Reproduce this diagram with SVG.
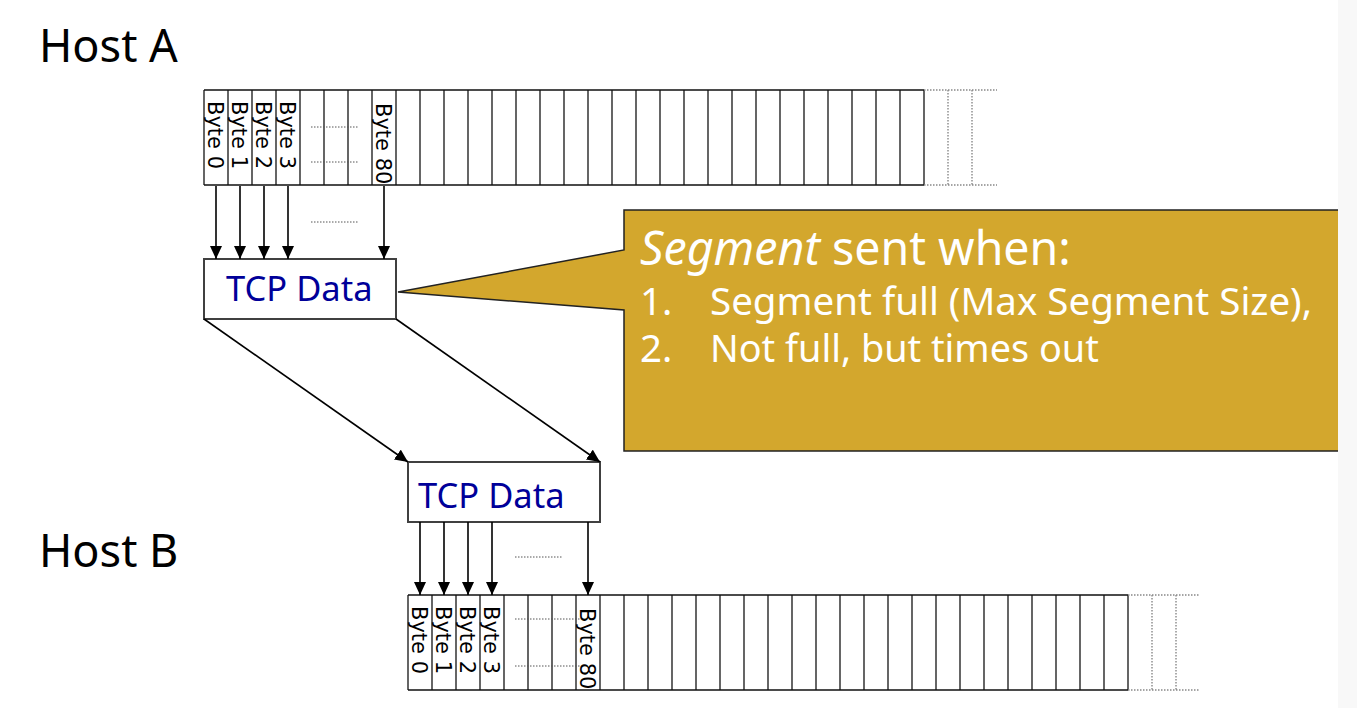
<svg xmlns="http://www.w3.org/2000/svg" width="1357" height="708" viewBox="0 0 1357 708">
  <style>
    .host { font-family: "Noto Sans", "DejaVu Sans", sans-serif; font-size: 45px; fill: #000; }
    .byte { font-family: "DejaVu Sans", "Noto Sans", sans-serif; font-size: 21px; fill: #000; }
    .cells { stroke: #404040; stroke-width: 1.6; fill: none; }
    .frame { stroke: #111; stroke-width: 1.6; fill: none; }
    .ext { stroke: #888; stroke-width: 1.4; stroke-dasharray: 1.5 1.5; fill: none; }
    .dots { stroke: #555; stroke-width: 1; stroke-dasharray: 1.5 1.5; fill: none; }
    .box { fill: #fff; stroke: #404040; stroke-width: 2; }
    .tcp { font-family: "Noto Sans", "DejaVu Sans", sans-serif; font-size: 34.5px; fill: #000099; }
    .arrow { stroke: #000; stroke-width: 1.6; fill: none; marker-end: url(#head); }
    .call { font-family: "Noto Sans", "DejaVu Sans", sans-serif; fill: #fff; }
  </style>
  <defs>
    <marker id="head" markerUnits="userSpaceOnUse" markerWidth="13" markerHeight="12" refX="13" refY="6" orient="auto">
      <path d="M0,0 L13,6 L0,12 z" fill="#000"/>
    </marker>
  </defs>

  <rect x="1338" y="0" width="19" height="708" fill="#f8f8f8"/>

  <g id="host-a-label">
    <text class="host" x="39" y="62">Host A</text>
  </g>

  <g id="host-a-buffer">
    <rect x="204" y="90" width="720" height="95" fill="#fff"/>
    <path class="cells" d="M204,90V185M228,90V185M252,90V185M276,90V185M300,90V185M324,90V185M348,90V185M372,90V185M396,90V185M420,90V185M444,90V185M468,90V185M492,90V185M516,90V185M540,90V185M564,90V185M588,90V185M612,90V185M636,90V185M660,90V185M684,90V185M708,90V185M732,90V185M756,90V185M780,90V185M804,90V185M828,90V185M852,90V185M876,90V185M900,90V185M924,90V185"/>
    <path class="frame" d="M204,90H924M204,185H924"/>
    <path class="ext" d="M924,90H997M924,185H997M948,90V185M972,90V185"/>
    <path class="dots" d="M311,127H359M311,162H359"/>
    <text class="byte" transform="translate(207.5,101) rotate(90)">Byte 0</text>
    <text class="byte" transform="translate(231.5,101) rotate(90)">Byte 1</text>
    <text class="byte" transform="translate(255.5,101) rotate(90)">Byte 2</text>
    <text class="byte" transform="translate(279.5,101) rotate(90)">Byte 3</text>
    <text class="byte" transform="translate(375.5,103) rotate(90)">Byte 80</text>
  </g>

  <g id="tcp-data-a">
    <rect class="box" x="204" y="259" width="192" height="60"/>
    <text class="tcp" x="226" y="301">TCP Data</text>
  </g>

  <g id="callout">
    <polygon points="624,210 1338,210 1338,451 624,451 624,310 398,292 624,250" fill="#D3A72D"/>
    <polyline points="1338,210 624,210 624,250 398,292 624,310 624,451 1338,451" fill="none" stroke="#222" stroke-width="1.5"/>
    <text class="call" x="640" y="265" font-size="46.5"><tspan font-style="italic">Segment</tspan> sent when:</text>
    <text class="call" x="640" y="315" font-size="38.5">1.</text>
    <text class="call" x="710" y="315" font-size="38.5">Segment full (Max Segment Size),</text>
    <text class="call" x="640" y="362" font-size="38.5">2.</text>
    <text class="call" x="710" y="362" font-size="37.8">Not full, but times out</text>
  </g>

  <g id="tcp-data-b">
    <rect class="box" x="408" y="462" width="192" height="60"/>
    <text class="tcp" x="418" y="508">TCP Data</text>
  </g>

  <g id="host-b-label">
    <text class="host" x="39" y="567">Host B</text>
  </g>

  <g id="host-b-buffer">
    <rect x="408" y="595" width="720" height="95" fill="#fff"/>
    <path class="cells" d="M408,595V690M432,595V690M456,595V690M480,595V690M504,595V690M528,595V690M552,595V690M576,595V690M600,595V690M624,595V690M648,595V690M672,595V690M696,595V690M720,595V690M744,595V690M768,595V690M792,595V690M816,595V690M840,595V690M864,595V690M888,595V690M912,595V690M936,595V690M960,595V690M984,595V690M1008,595V690M1032,595V690M1056,595V690M1080,595V690M1104,595V690M1128,595V690"/>
    <path class="frame" d="M408,595H1128M408,690H1128"/>
    <path class="ext" d="M1128,595H1200M1128,690H1200M1152,595V690M1176,595V690"/>
    <path class="dots" d="M515,619H581M515,666H581"/>
    <text class="byte" transform="translate(411.5,606) rotate(90)">Byte 0</text>
    <text class="byte" transform="translate(435.5,606) rotate(90)">Byte 1</text>
    <text class="byte" transform="translate(459.5,606) rotate(90)">Byte 2</text>
    <text class="byte" transform="translate(483.5,606) rotate(90)">Byte 3</text>
    <text class="byte" transform="translate(579.5,608) rotate(90)">Byte 80</text>
  </g>

  <g id="connectors">
    <line class="arrow" x1="216" y1="186" x2="216" y2="259"/>
    <line class="arrow" x1="240" y1="186" x2="240" y2="259"/>
    <line class="arrow" x1="264" y1="186" x2="264" y2="259"/>
    <line class="arrow" x1="288" y1="186" x2="288" y2="259"/>
    <line class="arrow" x1="384" y1="186" x2="384" y2="259"/>
    <path class="dots" d="M311,222H359"/>
    <line class="arrow" x1="204" y1="319" x2="408" y2="462"/>
    <line class="arrow" x1="396" y1="319" x2="600" y2="462"/>
    <line class="arrow" x1="420" y1="522" x2="420" y2="595"/>
    <line class="arrow" x1="444" y1="522" x2="444" y2="595"/>
    <line class="arrow" x1="468" y1="522" x2="468" y2="595"/>
    <line class="arrow" x1="492" y1="522" x2="492" y2="595"/>
    <line class="arrow" x1="588" y1="522" x2="588" y2="595"/>
    <path class="dots" d="M515,557H563"/>
  </g>
</svg>
